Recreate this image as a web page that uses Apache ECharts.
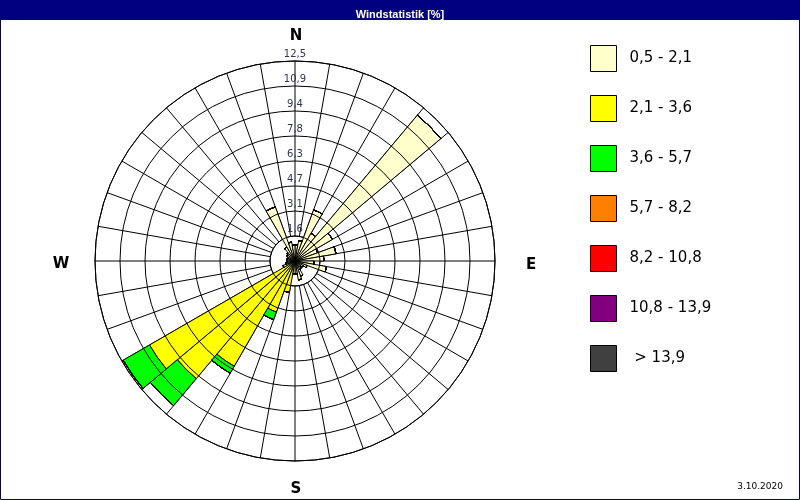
<!DOCTYPE html>
<html><head><meta charset="utf-8">
<script src="https://cdn.jsdelivr.net/npm/echarts@6/dist/echarts.min.js"></script>
<style>html,body{margin:0;padding:0;background:#fff}#c{width:800px;height:500px}</style>
</head><body><div id="c"></div>
<script>
// 36 direction sectors, clockwise from N (each 10°)
const directions = Array.from({length:36},(_,i)=>String(i*10+5));
const classNames = ['0,5 - 2,1','2,1 - 3,6','3,6 - 5,7','5,7 - 8,2','8,2 - 10,8','10,8 - 13,9',' > 13,9'];
const classColors = ['#FFFFCC','#FFFF00','#00FF00','#FF8000','#FF0000','#800080','#404040'];
const tickLabels = ['1,6','3,1','4,7','6,3','7,8','9,4','10,9','12,5'];
// frequency (%) per class per sector
const s1 = [1.0,1.3,3.4,2.0,11.9,2.7,1.5,2.6,1.8,1.2,2.0,0.8,0.6,0.5,0.6,1.0,1.2,0.8,0.8,0.6,0.4,0.3,0.3,0.3,0.8,0.6,0.5,0.5,0.5,0.5,0.6,0.7,1.0,3.6,1.2,1.0];
const s2 = [0,0,0,0,0,0,0,0,0,0,0,0,0,0,0,0,0,0,0,1.4,3.0,7.3,9.3,10.2,0,0,0,0,0,0,0,0,0,0,0,0];
const s3 = [0,0,0,0,0,0,0,0,0,0,0,0,0,0,0,0,0,0,0,0,0.5,0.5,2.2,1.9,0,0,0,0,0,0,0,0,0,0,0,0];
const s4 = new Array(36).fill(0);
const s5 = new Array(36).fill(0);
const s6 = new Array(36).fill(0);
const s7 = new Array(36).fill(0);
const seriesValues = [s1,s2,s3,s4,s5,s6,s7];

const chart = echarts.init(document.getElementById('c'), null, {renderer:'canvas'});
const FONT = 'DejaVu Sans';
const series = seriesValues.map((d,i)=>({
  type:'bar', coordinateSystem:'polar', name:classNames[i], stack:'w',
  data:d, barCategoryGap:'0%', z:3,
  itemStyle:{color:classColors[i], borderColor:'#000', borderWidth:1},
  emphasis:{disabled:true}, silent:true
}));
series.push({
  type:'pie', radius:[0,25], center:[295,261], z:1, silent:true,
  label:{show:false}, labelLine:{show:false}, legendHoverLink:false,
  itemStyle:{color:'#fff', borderColor:'#000', borderWidth:1},
  data:[{value:1,name:'inner'}], tooltip:{show:false}, emphasis:{disabled:true}
});
chart.setOption({
  animation:false,
  backgroundColor:'#fff',
  title:[
    {text:'Windstatistik [%]', left:'center', top:4, textStyle:{color:'#fff', fontSize:11, fontWeight:'bold', fontFamily:'Liberation Sans'}},
    {text:'3.10.2020', right:12, bottom:4, textStyle:{color:'#000', fontSize:9, fontWeight:'normal', fontFamily:FONT}}
  ],
  graphic:[
    {type:'rect', shape:{x:0,y:0,width:800,height:20}, style:{fill:'#000080'}, z:-10},
    {type:'rect', shape:{x:0.5,y:0.5,width:799,height:499}, style:{fill:'none', stroke:'#000080', lineWidth:1}, z:-10},
    {type:'text', x:296, y:36, style:{text:'N', font:'bold 15px '+FONT, fill:'#000', align:'center', verticalAlign:'middle'}},
    {type:'text', x:296, y:489, style:{text:'S', font:'bold 15px '+FONT, fill:'#000', align:'center', verticalAlign:'middle'}},
    {type:'text', x:61, y:264, style:{text:'W', font:'bold 15px '+FONT, fill:'#000', align:'center', verticalAlign:'middle'}},
    {type:'text', x:531, y:265, style:{text:'E', font:'bold 15px '+FONT, fill:'#000', align:'center', verticalAlign:'middle'}}
  ],
  legend:{
    orient:'vertical', left:585, top:40, itemWidth:26, itemHeight:26, itemGap:23,
    icon:'rect', selectedMode:false, data:classNames,
    textStyle:{fontSize:15, fontFamily:FONT, color:'#000', padding:[0,0,0,8]},
    itemStyle:{borderColor:'#000', borderWidth:1}
  },
  polar:{center:[295,261], radius:200},
  angleAxis:{
    type:'category', data:directions, startAngle:90, clockwise:true, boundaryGap:true,
    axisLine:{show:true, lineStyle:{color:'#000', width:1}},
    axisTick:{show:false}, axisLabel:{show:false, interval:0},
    splitLine:{show:true, interval:0, lineStyle:{color:'#000', width:1}}
  },
  radiusAxis:{
    type:'value', min:0, max:12.5, interval:1.5625,
    axisLine:{show:false}, axisTick:{show:false},
    axisLabel:{show:true, showMinLabel:false, margin:0, align:'center', verticalAlign:'bottom',
      fontSize:10, fontFamily:FONT, color:'#333355', padding:[0,0,2,0],
      formatter:(v)=>{const k=Math.round(v/1.5625); return k>0 ? tickLabels[k-1] : '';}},
    splitLine:{show:true, lineStyle:{color:'#000', width:1}},
    z:5
  },
  series:series
});
</script></body></html>
